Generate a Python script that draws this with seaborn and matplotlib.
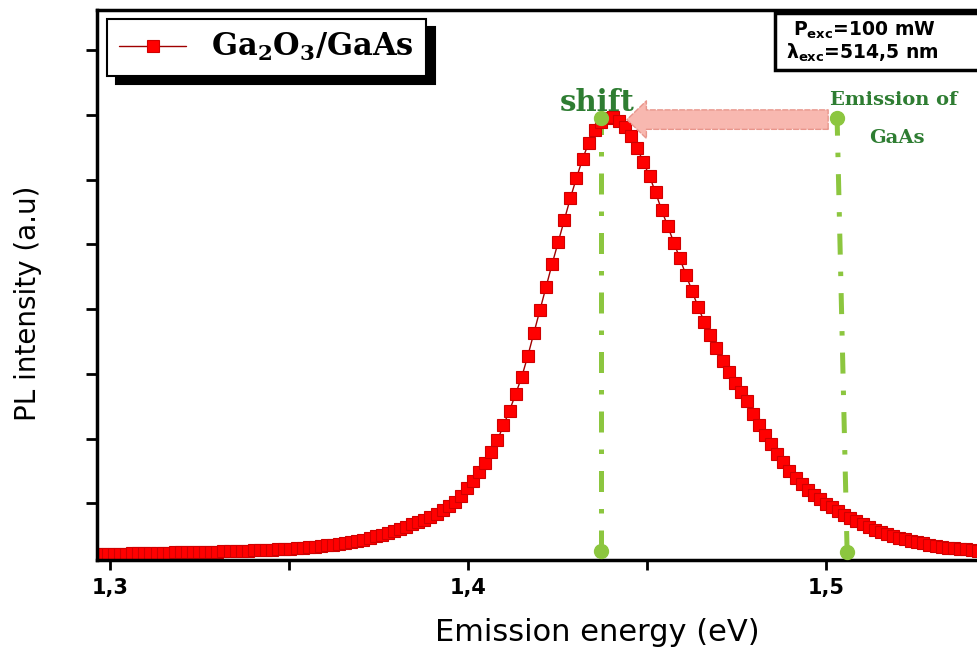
import matplotlib
matplotlib.use("Agg")
import matplotlib.pyplot as plt
import seaborn as sns
import pandas as pd
from matplotlib.patches import FancyArrowPatch, ArrowStyle, Rectangle
from matplotlib.ticker import FixedLocator, FuncFormatter

# PL spectrum (energy in eV, intensity in a.u.)
energy = [
    1.2960, 1.2977, 1.2994, 1.3011, 1.3028, 1.3045, 1.3062, 1.3079, 1.3096, 1.3113,
    1.3130, 1.3147, 1.3164, 1.3181, 1.3198, 1.3215, 1.3232, 1.3249, 1.3266, 1.3283,
    1.3300, 1.3317, 1.3334, 1.3351, 1.3368, 1.3385, 1.3402, 1.3419, 1.3436, 1.3453,
    1.3470, 1.3487, 1.3504, 1.3521, 1.3538, 1.3555, 1.3572, 1.3589, 1.3606, 1.3623,
    1.3640, 1.3657, 1.3674, 1.3691, 1.3708, 1.3725, 1.3742, 1.3759, 1.3776, 1.3793,
    1.3810, 1.3827, 1.3844, 1.3861, 1.3878, 1.3895, 1.3912, 1.3929, 1.3946, 1.3963,
    1.3980, 1.3997, 1.4014, 1.4031, 1.4048, 1.4065, 1.4082, 1.4099, 1.4116, 1.4133,
    1.4150, 1.4167, 1.4184, 1.4201, 1.4218, 1.4235, 1.4252, 1.4269, 1.4286, 1.4303,
    1.4320, 1.4337, 1.4354, 1.4371, 1.4388, 1.4405, 1.4422, 1.4439, 1.4456, 1.4473,
    1.4490, 1.4507, 1.4524, 1.4541, 1.4558, 1.4575, 1.4592, 1.4609, 1.4626, 1.4643,
    1.4660, 1.4677, 1.4694, 1.4711, 1.4728, 1.4745, 1.4762, 1.4779, 1.4796, 1.4813,
    1.4830, 1.4847, 1.4864, 1.4881, 1.4898, 1.4915, 1.4932, 1.4949, 1.4966, 1.4983,
    1.5000, 1.5017, 1.5034, 1.5051, 1.5068, 1.5085, 1.5102, 1.5119, 1.5136, 1.5153,
    1.5170, 1.5187, 1.5204, 1.5221, 1.5238, 1.5255, 1.5272, 1.5289, 1.5306, 1.5323,
    1.5340, 1.5357, 1.5374, 1.5391, 1.5408, 1.5425,
]
intensity = [
    0.216, 0.218, 0.219, 0.221, 0.223, 0.224, 0.227, 0.229, 0.230, 0.232,
    0.233, 0.235, 0.238, 0.240, 0.241, 0.243, 0.244, 0.247, 0.249, 0.252,
    0.255, 0.258, 0.261, 0.263, 0.266, 0.269, 0.272, 0.277, 0.281, 0.286,
    0.289, 0.294, 0.301, 0.308, 0.315, 0.321, 0.328, 0.338, 0.351, 0.363,
    0.377, 0.389, 0.403, 0.423, 0.440, 0.462, 0.488, 0.515, 0.543, 0.573,
    0.606, 0.641, 0.677, 0.713, 0.745, 0.785, 0.838, 0.893, 0.951, 1.026,
    1.116, 1.235, 1.351, 1.479, 1.623, 1.788, 1.972, 2.206, 2.433, 2.689,
    2.952, 3.277, 3.632, 3.988, 4.343, 4.699, 5.039, 5.379, 5.719, 6.028,
    6.321, 6.569, 6.770, 6.893, 6.955, 6.963, 6.913, 6.814, 6.680, 6.484,
    6.272, 6.054, 5.804, 5.530, 5.280, 5.029, 4.784, 4.533, 4.281, 4.029,
    3.804, 3.604, 3.406, 3.202, 3.029, 2.861, 2.719, 2.576, 2.379, 2.212,
    2.054, 1.909, 1.767, 1.632, 1.507, 1.394, 1.291, 1.204, 1.121, 1.059,
    0.995, 0.937, 0.881, 0.824, 0.771, 0.725, 0.677, 0.631, 0.584, 0.553,
    0.526, 0.498, 0.470, 0.442, 0.423, 0.403, 0.383, 0.363, 0.343, 0.325,
    0.315, 0.306, 0.297, 0.287, 0.278, 0.270,
]

# green guide lines: measured peak and GaAs emission
peak_x = [1.4372, 1.4372]
peak_y = [0.263, 6.96]
gaas_x = [1.5059, 1.5031]
gaas_y = [0.247, 6.955]

# shift arrow (from GaAs emission back to the peak)
arrow_from = (1.5006, 6.93)
arrow_to = (1.4444, 6.93)

x_major = [1.3, 1.4, 1.5]
x_minor = [1.35, 1.45]
y_ticks = [1, 2, 3, 4, 5, 6, 7, 8]

sns.set_style("ticks")
plt.rcParams['font.family'] = ['DejaVu Sans']
plt.rcParams['mathtext.fontset'] = 'dejavuserif'
plt.rcParams['text.color'] = 'black'
plt.rcParams['axes.labelcolor'] = 'black'
plt.rcParams['xtick.color'] = 'black'
plt.rcParams['ytick.color'] = 'black'

fig = plt.figure(figsize=(9.77, 6.58), dpi=100)
ax = fig.add_axes([0.0993, 0.1489, 0.9007, 0.8359])

green = '#8cc63f'
dark_green = '#2e7d32'
dashdot = (0, (4.2, 3.4, 0.9, 3.4))

ax.plot(peak_x, peak_y, color=green, lw=3.6, ls=dashdot, zorder=1.5)
ax.plot(gaas_x, gaas_y, color=green, lw=3.6, ls=dashdot, zorder=1.5)

df = pd.DataFrame({'energy': energy, 'intensity': intensity})
sns.lineplot(data=df, x='energy', y='intensity', ax=ax, color='#a00000',
             lw=1.0, marker='s', markersize=8.5, markerfacecolor='#ff0000',
             markeredgecolor='#d00000', markeredgewidth=0.8, errorbar=None,
             label=r'$\mathbf{Ga_2O_3/GaAs}$', zorder=2)

# end dots of the guide lines
ax.plot(peak_x, peak_y, ls='none', marker='o', ms=10, color=green, zorder=4)
ax.plot(gaas_x, gaas_y, ls='none', marker='o', ms=10, color=green, zorder=4)

arrow = FancyArrowPatch(arrow_from, arrow_to,
                        arrowstyle=ArrowStyle.Simple(head_length=14, head_width=27, tail_width=14),
                        mutation_scale=1, shrinkA=0, shrinkB=0,
                        fc='#f8b8b0', ec='#e8968c', ls='--', lw=1.0, zorder=3)
ax.add_patch(arrow)

ax.text(1.4360, 7.20, 'shift', color=dark_green, fontsize=21, fontweight='bold',
        family='DejaVu Serif', ha='center', va='center', zorder=5)
ax.text(1.5188, 7.23, 'Emission of', color=dark_green, fontsize=14, fontweight='bold',
        family='DejaVu Serif', ha='center', va='center', zorder=5)
ax.text(1.5198, 6.65, 'GaAs', color=dark_green, fontsize=14, fontweight='bold',
        family='DejaVu Serif', ha='center', va='center', zorder=5)

# excitation conditions box
ax.add_patch(Rectangle((0.7705, 0.8909), 0.26, 0.1036, transform=ax.transAxes,
                       fc='white', ec='black', lw=2.5, clip_on=False, zorder=5))
ax.text(0.7910, 0.9636, r'P$_{\mathbf{exc}}$=100 mW', transform=ax.transAxes,
        fontsize=13.5, fontweight='bold', math_fontfamily='dejavusans',
        ha='left', va='center', zorder=6)
ax.text(0.7830, 0.9218, r'λ$_{\mathbf{exc}}$=514,5 nm', transform=ax.transAxes,
        fontsize=13.5, fontweight='bold', math_fontfamily='dejavusans',
        ha='left', va='center', zorder=6)

ax.set_xlim(1.29637, 1.54218)
ax.set_ylim(0.1236, 8.624)
ax.xaxis.set_major_locator(FixedLocator(x_major))
ax.xaxis.set_minor_locator(FixedLocator(x_minor))
ax.xaxis.set_major_formatter(FuncFormatter(lambda v, p: f'{v:.1f}'.replace('.', ',')))
ax.yaxis.set_major_locator(FixedLocator(y_ticks))
ax.set_yticklabels([])
ax.tick_params(axis='x', which='both', direction='out', length=7, width=2,
               pad=6, labelsize=15)
ax.tick_params(axis='y', direction='out', length=8, width=2)
for lab in ax.get_xticklabels():
    lab.set_fontweight('bold')

for side in ['left', 'bottom', 'top']:
    ax.spines[side].set_linewidth(2.5)
    ax.spines[side].set_color('black')
ax.spines['right'].set_visible(False)

ax.set_xlabel('Emission energy (eV)', fontsize=22)
ax.xaxis.set_label_coords(0.569, -0.105)
ax.set_ylabel('PL intensity (a.u)', fontsize=20)
ax.yaxis.set_label_coords(-0.0625, 0.467)

leg = ax.legend(loc='upper left', bbox_to_anchor=(0.0114, 0.9836), borderaxespad=0,
                frameon=True, fancybox=False, edgecolor='black', fontsize=22,
                handlelength=2.2, borderpad=0.4, framealpha=1,
                shadow={'ox': 6.5, 'oy': -6, 'color': 'black', 'alpha': 1})
leg.get_frame().set_linewidth(1.5)

fig.savefig('out.png', dpi=100)
